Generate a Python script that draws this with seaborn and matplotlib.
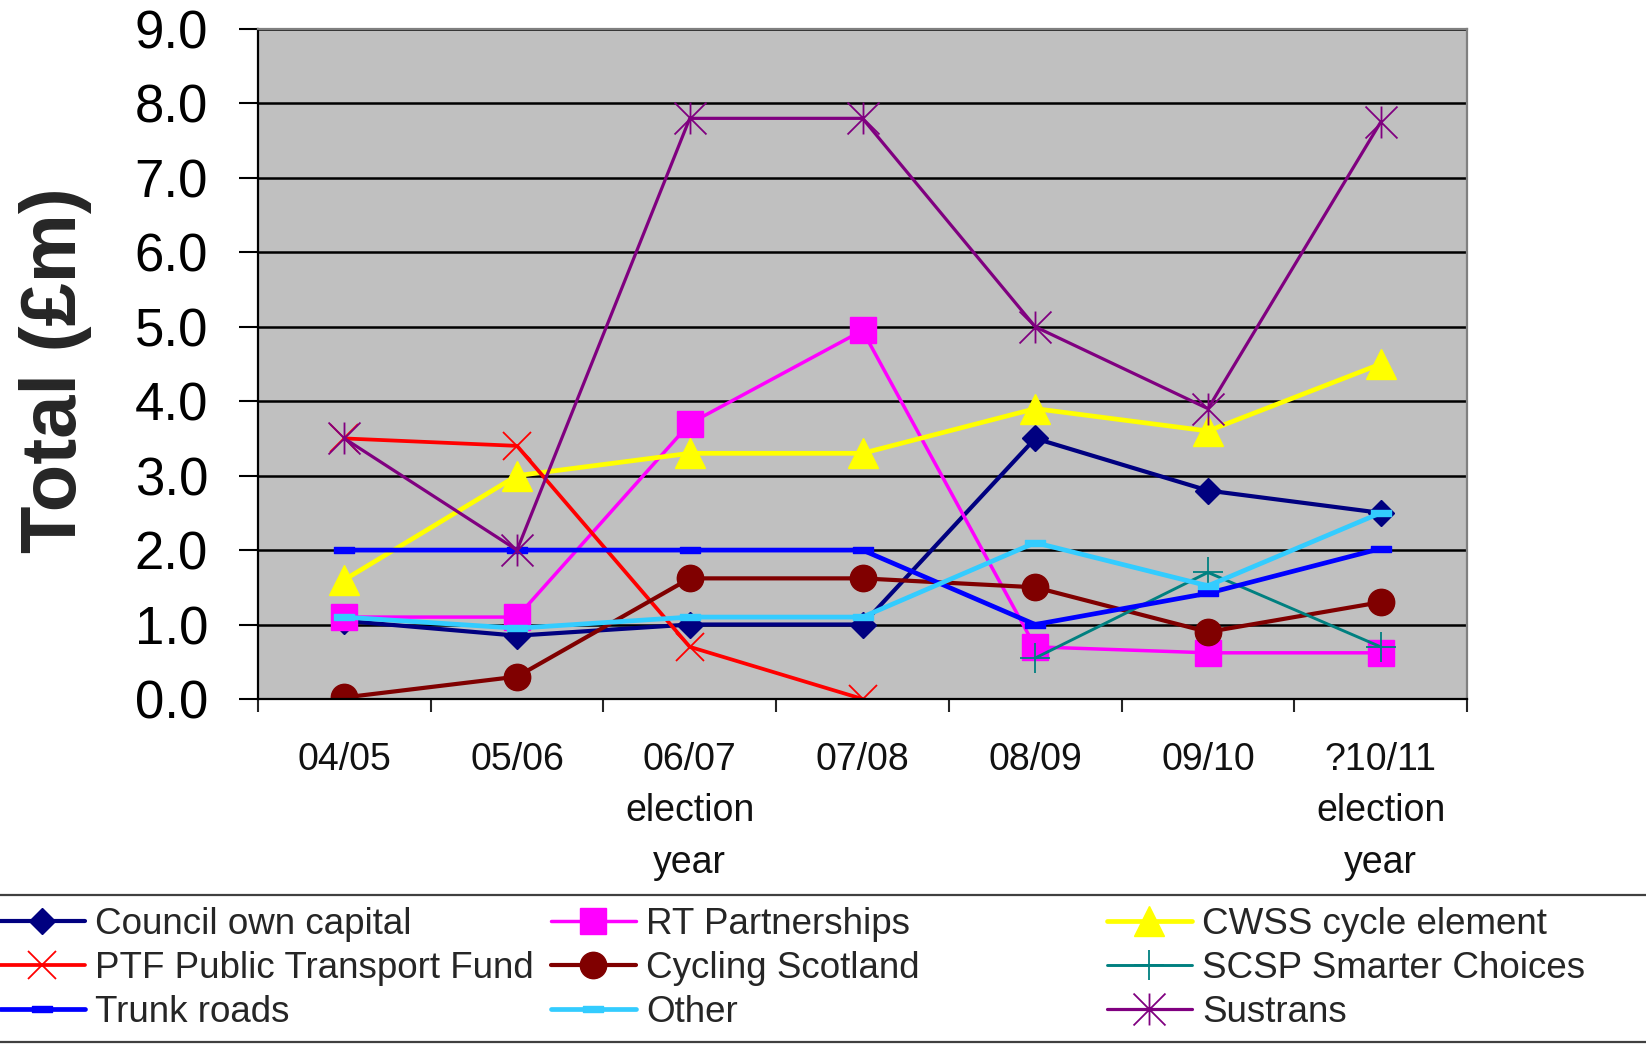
import numpy as np
import pandas as pd
import matplotlib
matplotlib.use("Agg")
import matplotlib.pyplot as plt
from matplotlib.path import Path
from matplotlib.patches import Rectangle
import seaborn as sns

# Financial years (x categories)
years = ["04/05", "05/06", "06/07\nelection\nyear", "07/08", "08/09", "09/10",
         "?10/11\nelection\nyear"]

# Funding by source, £m
council_own_capital = [1.05, 0.85, 1.0, 1.0, 3.5, 2.8, 2.5]
rt_partnerships = [1.1, 1.1, 3.7, 4.95, 0.7, 0.62, 0.62]
cwss_cycle_element = [1.6, 3.0, 3.3, 3.3, 3.9, 3.6, 4.5]
ptf_public_transport = [3.5, 3.4, 0.7, 0.0, np.nan, np.nan, np.nan]
cycling_scotland = [0.02, 0.3, 1.62, 1.62, 1.5, 0.9, 1.3]
scsp_smarter_choices = [np.nan, np.nan, np.nan, np.nan, 0.55, 1.7, 0.7]
trunk_roads = [2.0, 2.0, 2.0, 2.0, 1.0, 1.42, 2.02]
other = [1.1, 0.95, 1.1, 1.1, 2.1, 1.52, 2.5]
sustrans = [3.5, 2.0, 7.8, 7.8, 5.0, 3.9, 7.75]

sns.set_style("white")
plt.rcParams["font.family"] = ["Liberation Sans", "DejaVu Sans"]

# Custom marker shapes: Excel-style asterisk and dash
asterisk = Path([(-1, -1), (1, 1), (-1, 1), (1, -1), (0, -1), (0, 1)],
                [Path.MOVETO, Path.LINETO] * 3)
dash = Path([(-1, -0.35), (1, -0.35), (1, 0.35), (-1, 0.35), (-1, -0.35)],
            [Path.MOVETO, Path.LINETO, Path.LINETO, Path.LINETO, Path.CLOSEPOLY])

# name, values, colour, marker, marker size, line width, marker edge width
series = [
    ("Council own capital", council_own_capital, "#000080", "D", 13, 3.0, 1.0),
    ("RT Partnerships", rt_partnerships, "#FF00FF", "s", 19, 2.5, 1.0),
    ("CWSS cycle element", cwss_cycle_element, "#FFFF00", "^", 21, 3.4, 1.0),
    ("PTF Public Transport Fund", ptf_public_transport, "#FF0000", "x", 20, 2.7, 1.3),
    ("Cycling Scotland", cycling_scotland, "#800000", "o", 19, 3.0, 1.0),
    ("SCSP Smarter Choices", scsp_smarter_choices, "#008080", "+", 22, 2.1, 1.3),
    ("Trunk roads", trunk_roads, "#0000FF", dash, 14, 3.4, 1.0),
    ("Other", other, "#33CCFF", dash, 14, 3.4, 1.0),
    ("Sustrans", sustrans, "#800080", asterisk, 23, 2.3, 1.3),
]

fig = plt.figure(figsize=(16.46, 10.44), dpi=100)
ax = fig.add_axes([0.1567, 0.3305, 0.7346, 0.6417])
ax.set_facecolor("#C0C0C0")

x_pos = np.arange(len(years))
handles = {}
for name, vals, color, marker, ms, lw, mew in series:
    df = pd.DataFrame({"x": x_pos, "y": vals}).dropna()
    sns.lineplot(data=df, x="x", y="y", ax=ax, color=color, marker=marker,
                 markersize=ms, linewidth=lw, markeredgecolor=color,
                 markerfacecolor=color, markeredgewidth=mew,
                 errorbar=None, legend=False, sort=False)
    handles[name] = ax.lines[-1]

ax.set_xlim(-0.5, 6.5)
ax.set_ylim(0, 9)

# y axis
ax.set_yticks(np.arange(0, 10, 1))
ax.set_yticklabels([f"{v:.1f}" for v in np.arange(0, 10, 1)], fontsize=38)
ax.tick_params(axis="y", direction="out", length=14, width=1.5, pad=22,
               colors="black", left=True)
ax.yaxis.grid(True, color="black", linewidth=1.8)
ax.set_axisbelow(True)

# x axis: labels at category centres, tick marks at boundaries
ax.set_xticks(x_pos)
ax.set_xticklabels(years, fontsize=27, linespacing=1.55, color="#111111")
ax.set_xticks(np.arange(-0.5, 7, 1), minor=True)
ax.tick_params(axis="x", which="major", length=0, pad=31)
ax.tick_params(axis="x", which="minor", direction="out", length=9, width=1.5,
               bottom=True)

ax.set_xlabel("")
ax.set_ylabel("Total (£m)", fontsize=56, fontweight="bold")
ax.yaxis.set_label_coords(-0.137, 0.491)

for side in ("left", "bottom"):
    ax.spines[side].set_color("black")
    ax.spines[side].set_linewidth(1.6)
for side in ("top", "right"):
    ax.spines[side].set_color("#808080")
    ax.spines[side].set_linewidth(1.6)

# Legend: three columns laid out at fixed positions inside a full-width frame
columns = [
    (0.0, ["Council own capital", "PTF Public Transport Fund", "Trunk roads"]),
    (0.3348, ["RT Partnerships", "Cycling Scotland", "Other"]),
    (0.6726, ["CWSS cycle element", "SCSP Smarter Choices", "Sustrans"]),
]
for x0, names in columns:
    fig.legend(handles=[handles[n] for n in names], labels=names,
               loc="center left", bbox_to_anchor=(x0, 0.0722), frameon=False,
               fontsize=26.5, handlelength=2.3, handletextpad=0.28,
               labelspacing=0.24, borderpad=0, borderaxespad=0, numpoints=1)

fig.add_artist(Rectangle((-0.01, 0.0019), 1.02, 0.1408,
                         transform=fig.transFigure, fill=False,
                         edgecolor="#404040", linewidth=1.6))

fig.savefig("out.png", dpi=100)
